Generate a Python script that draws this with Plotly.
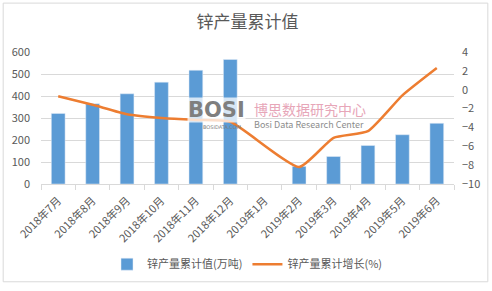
import plotly.graph_objects as go

categories = ["2018年7月", "2018年8月", "2018年9月", "2018年10月", "2018年11月", "2018年12月",
              "2019年1月", "2019年2月", "2019年3月", "2019年4月", "2019年5月", "2019年6月"]
output_values = [321, 365, 410, 463, 517, 566, None, 80, 125, 175, 224, 276]
growth_values = [-0.7, -1.6, -2.6, -3.0, -3.2, -3.4, None, -8.2, -5.1, -4.4, -0.6, 2.3]
bar_name = "锌产量累计值(万吨)"
line_name = "锌产量累计增长(%)"
title_text = "锌产量累计值"

FONT = "Noto Sans CJK SC"
GREY = "#595959"

L, R, T, B = 40, 37, 52, 104
W, H = 492, 291
pw, ph = W - L - R, H - T - B

def px(x):
    return (x - L) / pw

def py(y):
    return (H - B - y) / ph

fig = go.Figure()
fig.add_trace(go.Bar(x=categories, y=output_values, name=bar_name,
                     marker_color="#5B9BD5", yaxis="y"))
fig.add_trace(go.Scatter(x=categories, y=growth_values, name=line_name, mode="lines",
                         line=dict(color="#ED7D31", width=2.5, shape="spline", smoothing=0.5),
                         connectgaps=True, yaxis="y2"))

fig.update_layout(
    width=W, height=H,
    margin=dict(l=L, r=R, t=T, b=B),
    paper_bgcolor="white", plot_bgcolor="white",
    font=dict(family=FONT, color=GREY, size=11),
    title=dict(text=title_text, x=0.5, xref="paper", xanchor="center", y=1 - 22 / H, yanchor="middle",
               font=dict(size=17, color=GREY, family=FONT)),
    bargap=0.6,
    showlegend=True,
    legend=dict(orientation="h", x=0.5, xanchor="center", y=py(269), yanchor="middle",
                font=dict(size=11, color=GREY), itemwidth=30),
    xaxis=dict(type="category", tickangle=-45, ticks="outside", tickson="boundaries",
               ticklen=5, tickcolor="#D9D9D9", showline=True, linecolor="#D9D9D9",
               showgrid=False, tickfont=dict(size=11, color=GREY), ticklabelstandoff=5),
    yaxis=dict(range=[0, 600], dtick=100, showgrid=True, gridcolor="#D9D9D9",
               zeroline=False, tickfont=dict(size=11, color=GREY), ticks="",
               ticklabelstandoff=10),
    yaxis2=dict(range=[-10, 4], dtick=2, overlaying="y", side="right", showgrid=False,
                zeroline=False, tickfont=dict(size=11, color=GREY), ticklabelstandoff=7),
    shapes=[dict(type="rect", xref="paper", yref="paper",
                 x0=px(2), x1=px(489), y0=py(287), y1=py(2),
                 line=dict(color="#D9D9D9", width=1), fillcolor="rgba(0,0,0,0)", layer="below")],
    annotations=[
        dict(text="<b>BOSI</b>", xref="paper", yref="paper", x=px(216), y=py(111),
             showarrow=False, font=dict(size=21, color="#7F7F7F", family="DejaVu Sans"),
             bgcolor="rgba(255,255,255,0.75)", borderpad=0),
        dict(text="BOSIDATA.COM", xref="paper", yref="paper", x=px(222), y=py(128.5),
             showarrow=False, font=dict(size=5, color="#7F7F7F", family="DejaVu Sans")),
        dict(text="博思数据研究中心", xref="paper", yref="paper", x=px(252), y=py(110),
             xanchor="left", showarrow=False, font=dict(size=14, color="#E7A6B8", family=FONT)),
        dict(text="Bosi Data Research Center", xref="paper", yref="paper", x=px(252), y=py(126),
             xanchor="left", showarrow=False, font=dict(size=9, color="#8C8C8C", family=FONT)),
    ],
)

fig.write_html("out.html")
